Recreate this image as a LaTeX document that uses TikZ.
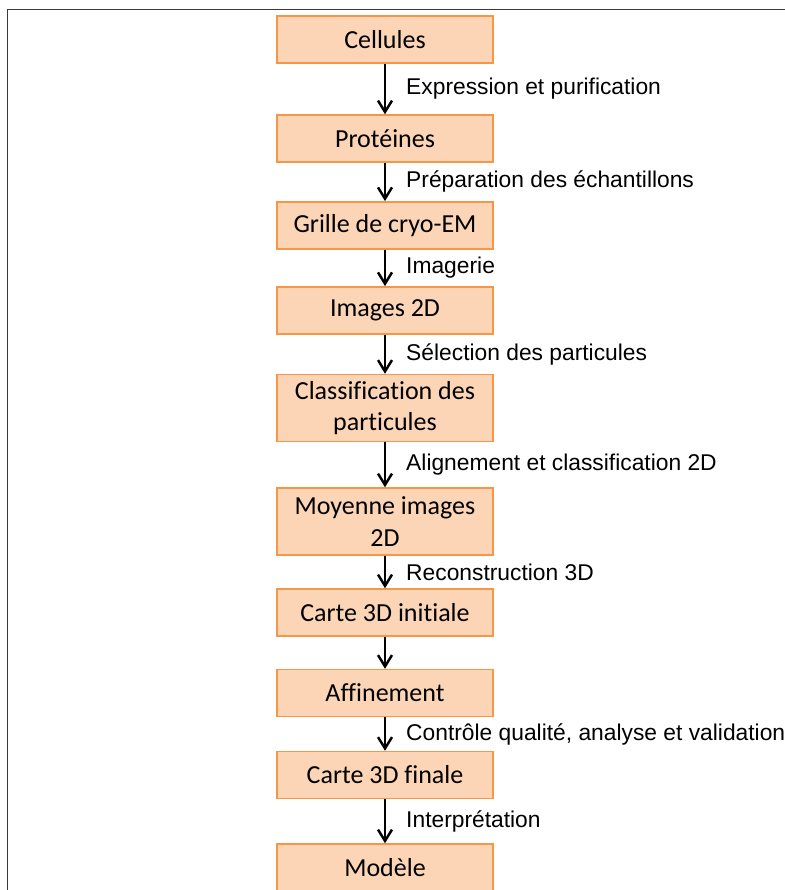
\documentclass[tikz,border=0pt]{standalone}
\usepackage{fontspec}
\setmainfont{Liberation Sans}
\newfontfamily\boxfont[Ligatures=NoCommon]{Carlito}
\usetikzlibrary{arrows.meta}

\definecolor{boxfill}{HTML}{FBD5B5}
\definecolor{boxline}{HTML}{F79646}
\definecolor{framegray}{HTML}{3A3A3A}

\begin{document}
\begin{tikzpicture}[x=0.75pt, y=-0.75pt,
        etape/.style={draw=boxline, fill=boxfill, line width=1.1pt, minimum width=162pt, minimum height=35.25pt,
            inner sep=0pt, align=center, font=\boxfont\fontsize{19.5}{23.8}\selectfont},
        deuxlignes/.style={minimum height=50.25pt},
        fleche/.style={-{Straight Barb[length=8.5pt, width=10.5pt]}, line width=1.85pt},
        legende/.style={midway, anchor=west, inner sep=0pt, xshift=15pt, font=\fontsize{17.1}{20}\selectfont}]

        \useasboundingbox (0,0) rectangle (785,890);
        \draw[framegray, line width=1.1pt] (7.3,890) -- (7.3,9.3) -- (785,9.3);

        \node[etape] (cellules) at (385,39.5) {Cellules};
        \node[etape] (proteines) at (385,138.5) {Protéines};
        \node[etape] (grille) at (385,225.3) {Grille de cryo-EM};
        \node[etape] (images) at (385,310.3) {Images 2D};
        \node[etape, deuxlignes] (classif) at (385,408) {Classification des\\particules};
        \node[etape, deuxlignes] (moyenne) at (385,521.5) {Moyenne images\\2D};
        \node[etape] (carteinit) at (385,612.5) {Carte 3D initiale};
        \node[etape] (affinement) at (385,693) {Affinement};
        \node[etape] (cartefin) at (385,775) {Carte 3D finale};
        \node[etape] (modele) at (385,867.5) {Modèle};

        \foreach \a/\b/\txt in {cellules/proteines/Expression et purification,
                proteines/grille/Préparation des échantillons,
                grille/images/Imagerie,
                images/classif/Sélection des particules,
                classif/moyenne/Alignement et classification 2D,
                moyenne/carteinit/Reconstruction 3D,
                carteinit/affinement/{},
                affinement/cartefin/{Contrôle qualité, analyse et validation},
                cartefin/modele/Interprétation} {
            \draw[fleche] (\a) -- (\b) node[legende] {\txt};
        }
    \end{tikzpicture}
\end{document}
